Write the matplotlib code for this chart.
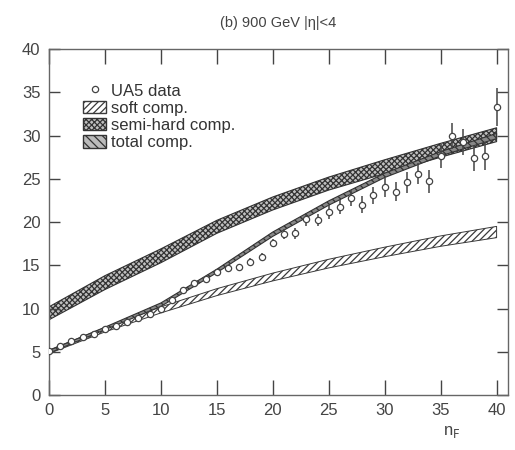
import numpy as np
import matplotlib.pyplot as plt
from matplotlib.patches import Patch
from matplotlib.lines import Line2D

plt.rcParams['font.family'] = ['Liberation Sans', 'DejaVu Sans']
plt.rcParams['hatch.linewidth'] = 0.9

# UA5 data, n_F = 0..40
nF = np.arange(0, 41)
ua5 = [5.1, 5.7, 6.2, 6.7, 7.1, 7.6, 8.0, 8.5, 8.9, 9.4,
       9.9, 11.0, 12.2, 12.9, 13.4, 14.2, 14.7, 14.8, 15.4, 16.0,
       17.6, 18.6, 18.7, 20.3, 20.2, 21.2, 21.7, 22.8, 22.0, 23.1,
       24.0, 23.5, 24.6, 25.6, 24.7, 27.6, 30.0, 29.3, 27.4, 27.6,
       33.3]
ua5_err = [0.15, 0.15, 0.15, 0.15, 0.15, 0.2, 0.2, 0.2, 0.2, 0.2,
           0.2, 0.25, 0.25, 0.3, 0.3, 0.3, 0.35, 0.4, 0.4, 0.45,
           0.5, 0.6, 0.6, 0.7, 0.7, 0.8, 0.8, 0.9, 1.0, 1.0,
           1.1, 1.1, 1.2, 1.2, 1.3, 1.4, 1.5, 1.5, 1.5, 1.6,
           2.2]

# model bands (read at n_F = 0, 5, ..., 40)
nodes = [0, 5, 10, 15, 20, 25, 30, 35, 40]
soft_lo = [4.8, 7.3, 9.5, 11.5, 13.2, 14.7, 16.0, 17.2, 18.2]
soft_hi = [5.2, 7.8, 10.2, 12.3, 14.1, 15.7, 17.1, 18.4, 19.5]
semi_lo = [8.7, 12.2, 15.3, 18.7, 21.4, 23.7, 25.6, 27.5, 29.3]
semi_hi = [10.2, 13.8, 16.9, 20.2, 22.9, 25.2, 27.2, 29.1, 30.9]
tot_lo = [4.85, 7.55, 10.25, 14.15, 18.35, 21.95, 25.15, 27.65, 29.65]
tot_hi = [5.15, 7.85, 10.65, 14.55, 18.85, 22.45, 25.65, 28.15, 30.25]

fig = plt.figure(figsize=(5.15, 4.5), dpi=100)
ax = fig.add_axes([0.095, 0.122, 0.891, 0.769])

gray = '#444444'
ax.fill_between(nodes, soft_lo, soft_hi, facecolor='white', edgecolor='#3a3a3a',
                hatch='/////', linewidth=0.7)
ax.fill_between(nodes, semi_lo, semi_hi, facecolor='#c0c0c0', edgecolor='#333333',
                hatch='xxxxxx', linewidth=0.8)
ax.fill_between(nodes, tot_lo, tot_hi, facecolor='#888888', edgecolor='#333333',
                hatch='\\\\\\\\', linewidth=0.8)

ax.errorbar(nF, ua5, yerr=ua5_err, fmt='o', ms=4.5, mfc='white', mec=gray,
            ecolor=gray, elinewidth=1.1, capsize=0, mew=0.9, zorder=5)

ax.set_xlim(0, 41)
ax.set_ylim(0, 40)
ax.set_xticks(range(0, 41, 5))
ax.set_yticks(range(0, 41, 5))
ax.tick_params(direction='in', length=11, width=1, colors=gray, labelsize=12,
               top=True, right=True, pad=6)
ax.tick_params(axis='y', length=8)
for s in ax.spines.values():
    s.set_color('#666666')
    s.set_linewidth(1)

ax.set_title('(b) 900 GeV |η|<4', fontsize=10.5, color=gray, pad=16)
ax.text(36, -4.3, r'n$_\mathrm{F}$', fontsize=12, color=gray, ha='center', va='center')

handles = [
    Line2D([], [], marker='o', ls='none', ms=4.5, mfc='white', mec=gray, mew=0.9),
    Patch(facecolor='white', edgecolor='#3a3a3a', hatch='/////'),
    Patch(facecolor='#c0c0c0', edgecolor='#333333', hatch='xxxxxx'),
    Patch(facecolor='#bbbbbb', edgecolor='#333333', hatch='\\\\\\\\'),
]
labels = ['UA5 data', 'soft comp.', 'semi-hard comp.', 'total comp.']
leg = ax.legend(handles, labels, loc='upper left', bbox_to_anchor=(0.06, 0.92),
                frameon=False, fontsize=12, handlelength=1.4, handleheight=0.8,
                handletextpad=0.3, labelspacing=0.12, borderaxespad=0)
for t in leg.get_texts():
    t.set_color('#333333')

fig.savefig('out.png', dpi=100)
